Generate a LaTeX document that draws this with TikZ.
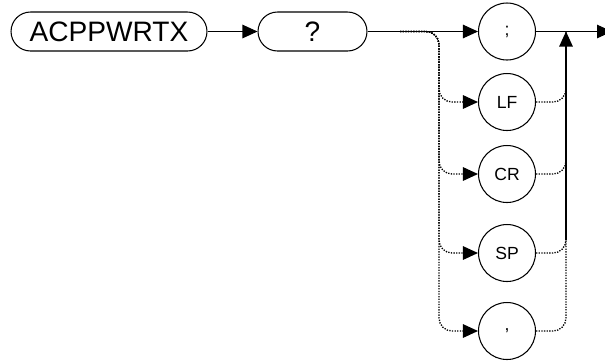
\documentclass[tikz,border=0pt]{standalone}
\usepackage{fontspec}
\setmainfont{Liberation Sans}
\usetikzlibrary{arrows.meta}
\begin{document}
\begin{tikzpicture}[x=0.02cm,y=-0.02cm,line width=0.6pt,
  kw/.style={draw,rounded corners=0.39cm,minimum height=0.78cm,inner sep=0pt,font=\fontsize{16}{19}\selectfont},
  ch/.style={draw,circle,minimum size=1.14cm,inner sep=0pt,font=\fontsize{10}{12}\selectfont},
  tip/.style={-{Triangle[length=0.3cm,width=0.27cm]}},
  dots/.style={line width=0.75pt,dash pattern=on 0.75pt off 0.75pt,rounded corners=0.26cm}]
  \useasboundingbox (0,0) rectangle (605,360);
  \clip (0,0) rectangle (605,360);
  \node[kw,minimum width=3.92cm] (cmd) at (109,31.5) {ACPPWRTX};
  \node[kw,minimum width=2.18cm] (qry) at (312.5,31.5) {?};
  \node[ch] (semi) at (507,31.5) {;};
  \node[ch] (lf) at (507,102) {LF};
  \node[ch] (cr) at (507,174) {CR};
  \node[ch] (sp) at (507,253) {SP};
  \node[ch] (comma) at (507,331) {,};
  \coordinate (split) at (400,31.5);
  \coordinate (lx) at (439,31.5);
  \coordinate (rx) at (566,31.5);
  \coordinate (rbot) at (566,240);
  \coordinate (end) at (612,31.5);
  % main line
  \draw[tip] (cmd) -- (qry);
  \draw[tip] (qry) -- (semi);
  \draw[tip] (semi) -- (end);
  \draw[tip] (rbot) -- (rx);
  % branches
  \foreach \n in {lf,cr,sp,comma}{
    \draw[dots,tip] (split) -| (lx |- \n.west) -- (\n.west);
    \draw[dots] (\n.east) -| (rx);
  }
\end{tikzpicture}
\end{document}
